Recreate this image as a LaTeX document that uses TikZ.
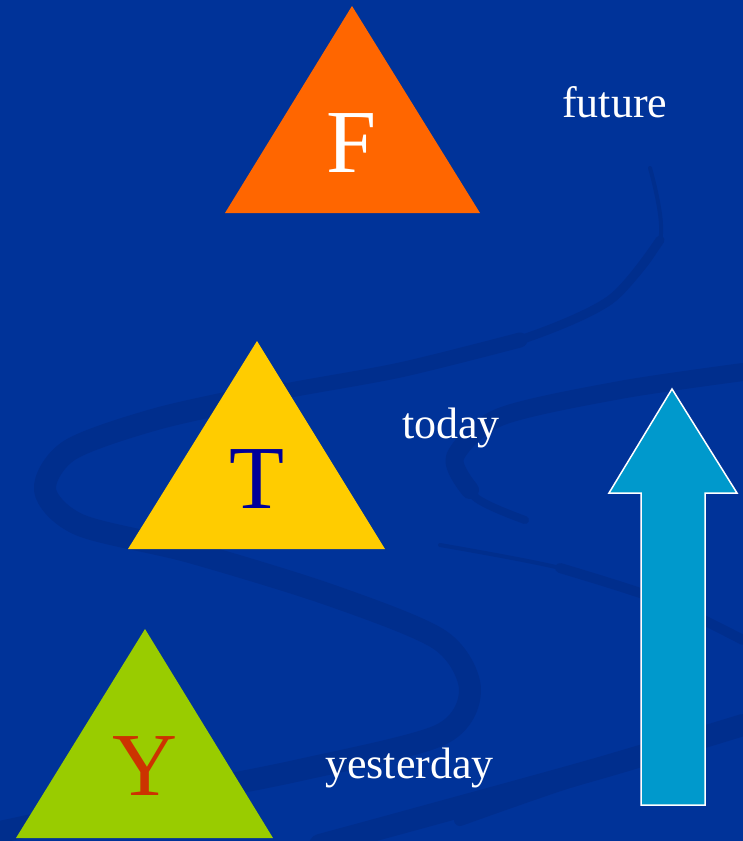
\documentclass[tikz,border=0pt]{standalone}
\usepackage{fontspec}
\setmainfont{Liberation Serif}
\definecolor{bg}{RGB}{0,51,153}
\definecolor{swirl}{RGB}{0,46,141}
\definecolor{fOrange}{RGB}{255,102,0}
\definecolor{tYellow}{RGB}{255,204,0}
\definecolor{yGreen}{RGB}{153,204,0}
\definecolor{arrowCyan}{RGB}{0,153,204}
\definecolor{tBlue}{RGB}{0,0,153}
\definecolor{yRed}{RGB}{204,51,0}
\tikzset{
  band/.style={draw=swirl, line cap=round, line join=round},
  bigletter/.style={anchor=base, inner sep=0pt, font=\fontsize{90}{90}\selectfont},
  word/.style={anchor=base west, inner sep=0pt, text=white, font=\fontsize{44}{44}\selectfont},
}
\begin{document}
\begin{tikzpicture}[x=1pt,y=-1pt]
\useasboundingbox (0,0) rectangle (743,841);
\fill[bg] (0,0) rectangle (743,841);
% background swirls
\draw[band, line width=4] plot[smooth] coordinates {(650,168) (660,240) (610,300) (520,340) (400,370) (280,392) (160,418) (70,450) (45,490) (80,525) (190,552) (330,595) (440,640) (470,690) (440,735) (300,770) (150,800) (0,832)};
\draw[band, line width=9] plot[smooth] coordinates {(660,240) (610,300) (520,340) (400,370) (280,392) (160,418) (70,450) (45,490) (80,525) (190,552) (330,595) (440,640) (470,690) (440,735) (300,770) (150,800) (0,832)};
\draw[band, line width=15] plot[smooth] coordinates {(520,340) (400,370) (280,392) (160,418) (70,450) (45,490) (80,525) (190,552) (330,595) (440,640) (470,690) (440,735) (300,770) (150,800) (0,832)};
\draw[band, line width=22] plot[smooth] coordinates {(280,392) (160,418) (70,450) (45,490) (80,525) (190,552) (330,595) (440,640) (470,690) (440,735) (300,770) (150,800) (0,832)};
% hook band
\draw[band, line width=8] plot[smooth] coordinates {(743,372) (620,390) (500,417) (455,457) (475,497) (525,520)};
\draw[band, line width=18] plot[smooth] coordinates {(743,372) (620,390) (500,417) (455,457) (470,490)};
% right bands
\draw[band, line width=4] plot[smooth] coordinates {(440,545) (560,568) (660,600) (743,640)};
\draw[band, line width=10] plot[smooth] coordinates {(560,568) (660,600) (743,640)};
\draw[band, line width=12] plot[smooth] coordinates {(460,820) (560,785) (743,725)};
\draw[band, line width=22] plot[smooth] coordinates {(743,725) (600,768) (430,815) (320,845)};
% triangles
\fill[fOrange] (352,6) -- (480,213) -- (225,213) -- cycle;
\fill[tYellow] (257,341) -- (385,549) -- (128,549) -- cycle;
\fill[yGreen] (145,629) -- (273,838) -- (16,838) -- cycle;
% letters
\node[bigletter, text=white] (F) at (352,172) {F};
\node[bigletter, text=tBlue] (T) at (257,508) {T};
\node[bigletter, text=yRed] (Y) at (145,795) {Y};
% words
\node[word] (future) at (562,117) {future};
\node[word] (today) at (402,438) {today};
\node[word] (yesterday) at (325,778) {yesterday};
% arrow
\filldraw[fill=arrowCyan, draw=white, line width=1.5, line join=miter]
  (672,389) -- (737,493) -- (705,493) -- (705,805) -- (641,805) -- (641,493) -- (609,493) -- cycle;
\end{tikzpicture}
\end{document}
